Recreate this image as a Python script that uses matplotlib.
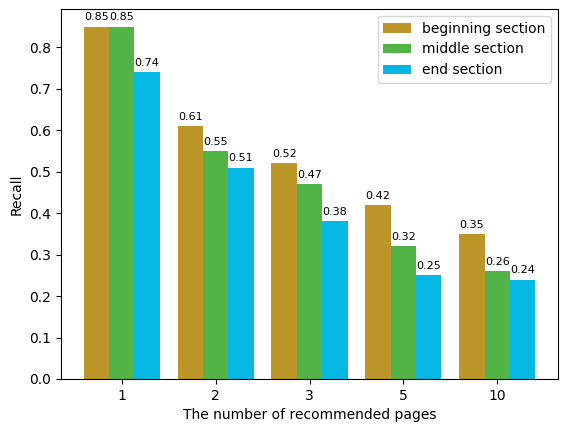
import numpy as np
import matplotlib.pyplot as plt

pages = ['1', '2', '3', '5', '10']
beginning = [0.85, 0.61, 0.52, 0.42, 0.35]
middle = [0.85, 0.55, 0.47, 0.32, 0.26]
end = [0.74, 0.51, 0.38, 0.25, 0.24]

x = np.arange(len(pages))
width = 0.27

fig, ax = plt.subplots(figsize=(5.67, 4.32), dpi=100)
fig.subplots_adjust(left=61 / 567, right=558 / 567, top=1 - 9 / 432, bottom=1 - 379 / 432)

b1 = ax.bar(x - width, beginning, width, color='#bc9628', label='beginning section')
b2 = ax.bar(x, middle, width, color='#52b447', label='middle section')
b3 = ax.bar(x + width, end, width, color='#05b8e3', label='end section')

for bars in (b1, b2, b3):
    ax.bar_label(bars, fontsize=8, padding=3)

ax.set_xticks(x)
ax.set_xticklabels(pages)
ax.set_xlabel('The number of recommended pages')
ax.set_ylabel('Recall')
ax.legend(loc='upper right')

plt.savefig('out.png')
